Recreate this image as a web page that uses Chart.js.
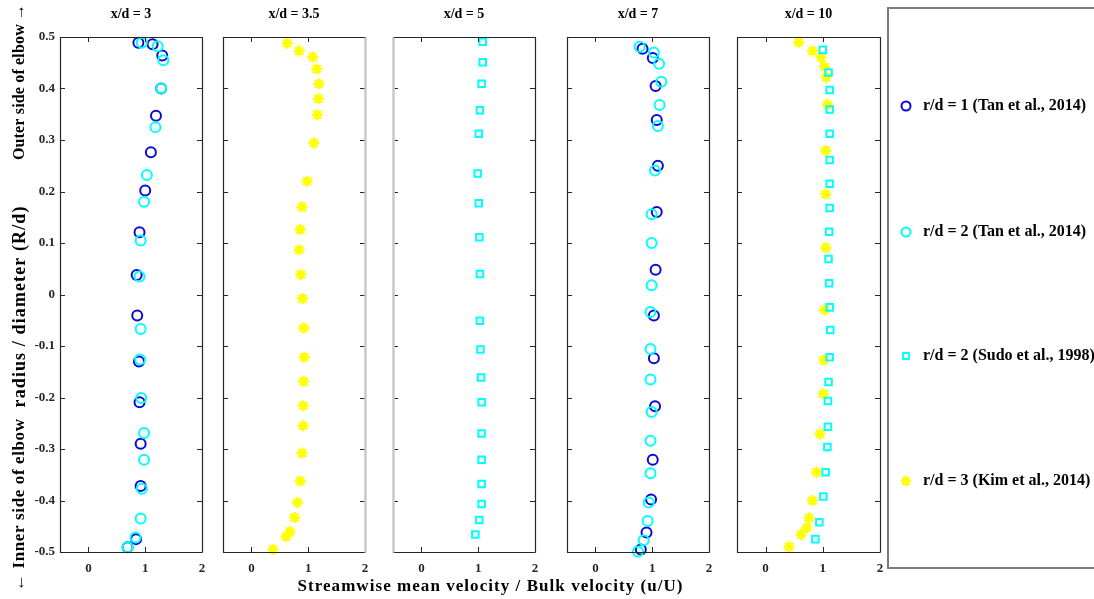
<!DOCTYPE html>
<html>
<head>
<meta charset="utf-8">
<script src="https://cdn.jsdelivr.net/npm/chart.js@4.4.0/dist/chart.umd.min.js"></script>
<style>
  html, body { margin: 0; padding: 0; background: #fff; }
  #wrap { position: relative; width: 1094px; height: 599px; overflow: hidden; }
  #wrap canvas { position: absolute; left: 0; top: 0; }
</style>
</head>
<body>
<div id="wrap">
  <canvas id="p0" width="1094" height="599"></canvas>
  <canvas id="p1" width="1094" height="599"></canvas>
  <canvas id="p2" width="1094" height="599"></canvas>
  <canvas id="p3" width="1094" height="599"></canvas>
  <canvas id="p4" width="1094" height="599"></canvas>
</div>
<script>
/* Velocity profiles downstream of an elbow — five small panels + legend */

const panelTitles = ["x/d = 3", "x/d = 3.5", "x/d = 5", "x/d = 7", "x/d = 10"];
const xTicks = [0, 1, 2];
const yTicks = [-0.5, -0.4, -0.3, -0.2, -0.1, 0, 0.1, 0.2, 0.3, 0.4, 0.5];
const yTickLabels = ["-0.5", "-0.4", "-0.3", "-0.2", "-0.1", "0", "0.1", "0.2", "0.3", "0.4", "0.5"];
const seriesLabels = ["r/d = 1 (Tan et al., 2014)", "r/d = 2 (Tan et al., 2014)",
                      "r/d = 2 (Sudo et al., 1998)", "r/d = 3 (Kim et al., 2014)"];
const xTitle = "Streamwise mean velocity / Bulk velocity (u/U)";
const yTitle = "radius / diameter (R/d)";
const yTop = "Outer side of elbow \u2192";
const yBottom = "\u2190 Inner side of elbow";

/* x/d = 3 */
const tan1_x3_u = [0.88, 1.13, 1.30, 1.28, 1.19, 1.10, 1.00, 0.90, 0.85, 0.86, 0.89, 0.90, 0.92, 0.92, 0.84, 0.69];
const tan1_x3_r = [0.489, 0.486, 0.464, 0.400, 0.347, 0.276, 0.202, 0.121, 0.038, -0.041, -0.130, -0.209, -0.290, -0.372, -0.475, -0.491];
const tan2_x3_u = [0.94, 1.22, 1.32, 1.28, 1.18, 1.03, 0.98, 0.92, 0.90, 0.92, 0.91, 0.93, 0.98, 0.98, 0.94, 0.92, 0.83, 0.69];
const tan2_x3_r = [0.489, 0.482, 0.455, 0.400, 0.325, 0.232, 0.180, 0.105, 0.035, -0.067, -0.126, -0.201, -0.269, -0.321, -0.377, -0.435, -0.472, -0.491];
/* x/d = 3.5 */
const kim_x35_u = [0.63, 0.84, 1.08, 1.15, 1.19, 1.18, 1.16, 1.10, 0.98, 0.89, 0.86, 0.84, 0.87, 0.90, 0.92, 0.93, 0.92, 0.91, 0.91, 0.89, 0.86, 0.81, 0.76, 0.68, 0.61, 0.38];
const kim_x35_r = [0.488, 0.473, 0.461, 0.438, 0.409, 0.380, 0.349, 0.294, 0.220, 0.170, 0.126, 0.087, 0.039, -0.008, -0.065, -0.122, -0.169, -0.216, -0.255, -0.308, -0.362, -0.404, -0.433, -0.460, -0.470, -0.495];
/* x/d = 5 */
const sudo_x5_u = [1.08, 1.08, 1.06, 1.03, 1.01, 0.99, 1.01, 1.02, 1.03, 1.03, 1.04, 1.05, 1.06, 1.06, 1.06, 1.06, 1.06, 1.02, 0.95];
const sudo_x5_r = [0.491, 0.451, 0.409, 0.358, 0.312, 0.235, 0.177, 0.111, 0.040, -0.051, -0.107, -0.161, -0.209, -0.270, -0.321, -0.368, -0.407, -0.438, -0.466];
/* x/d = 7 */
const tan1_x7_u = [0.83, 1.01, 1.06, 1.08, 1.10, 1.08, 1.06, 1.03, 1.03, 1.05, 1.01, 0.98, 0.90, 0.80];
const tan1_x7_r = [0.477, 0.459, 0.405, 0.339, 0.250, 0.160, 0.048, -0.041, -0.124, -0.217, -0.321, -0.398, -0.462, -0.495];
const tan2_x7_u = [0.78, 1.03, 1.12, 1.16, 1.13, 1.10, 1.05, 0.99, 0.99, 0.99, 0.97, 0.97, 0.97, 0.99, 0.97, 0.97, 0.94, 0.92, 0.85, 0.75];
const tan2_x7_r = [0.481, 0.470, 0.448, 0.413, 0.368, 0.327, 0.241, 0.156, 0.100, 0.018, -0.034, -0.106, -0.165, -0.228, -0.284, -0.347, -0.404, -0.440, -0.477, -0.499];
/* x/d = 10 */
const sudo_x10_u = [1.00, 1.10, 1.12, 1.12, 1.12, 1.12, 1.12, 1.12, 1.11, 1.10, 1.11, 1.12, 1.13, 1.12, 1.10, 1.09, 1.09, 1.08, 1.05, 1.01, 0.94, 0.87];
const sudo_x10_r = [0.475, 0.431, 0.397, 0.359, 0.312, 0.261, 0.215, 0.168, 0.122, 0.069, 0.022, -0.025, -0.069, -0.122, -0.170, -0.207, -0.257, -0.296, -0.345, -0.392, -0.442, -0.475];
const kim_x10_u = [0.58, 0.82, 0.97, 1.03, 1.06, 1.08, 1.05, 1.05, 1.05, 1.03, 1.02, 1.01, 0.95, 0.89, 0.82, 0.76, 0.72, 0.62, 0.41];
const kim_x10_r = [0.490, 0.473, 0.460, 0.442, 0.422, 0.369, 0.279, 0.195, 0.091, -0.030, -0.127, -0.193, -0.271, -0.345, -0.400, -0.434, -0.453, -0.466, -0.490];

const SERIF = '"Liberation Serif", "Times New Roman", serif';
const DARK = "#262626";
const styles = [
  { pointStyle: "circle", color: "#0a0ad8", radius: 5 },
  { pointStyle: "circle", color: "#00ffff", radius: 5 },
  { pointStyle: "rect", color: "#00ffff", radius: 4.6 },
  { pointStyle: "star", color: "#ffff00", radius: 5.5 },
];

const pts = (u, r) => u.map((v, i) => ({ x: v, y: r[i] }));
const ds = (k, u, r) => ({
  label: seriesLabels[k], data: pts(u, r), showLine: false, clip: false,
  pointStyle: styles[k].pointStyle, pointRadius: styles[k].radius,
  pointBorderColor: styles[k].color, pointBackgroundColor: "rgba(0,0,0,0)",
  pointBorderWidth: k === 3 ? 2.5 : 2,
});

// first dataset is drawn on top
const panels = [
  { L: 60,  R: 202, sets: [ds(1, tan2_x3_u, tan2_x3_r), ds(0, tan1_x3_u, tan1_x3_r)], border: { yLabels: true } },
  { L: 223, R: 365, sets: [ds(3, kim_x35_u, kim_x35_r)], border: { right: "#c8c8c8" } },
  { L: 393, R: 535, sets: [ds(2, sudo_x5_u, sudo_x5_r)], border: { left: "#c8c8c8" } },
  { L: 567, R: 709, sets: [ds(1, tan2_x7_u, tan2_x7_r), ds(0, tan1_x7_u, tan1_x7_r)], border: {} },
  { L: 737, R: 880, sets: [ds(2, sudo_x10_u, sudo_x10_r), ds(3, kim_x10_u, kim_x10_r)], border: {} },
];
const TOP = 37, BOTTOM = 552;

/* box + inward ticks on all four sides, MATLAB style; y labels on the first panel */
const boxTicks = {
  id: "boxTicks",
  afterDraw(chart, args, o) {
    const { ctx, chartArea: a, scales: { x, y } } = chart;
    ctx.save();
    ctx.strokeStyle = DARK; ctx.lineWidth = 1;
    ctx.beginPath();
    xTicks.forEach((v) => {
      const px = Math.round(x.getPixelForValue(v)) + 0.5;
      ctx.moveTo(px, a.bottom); ctx.lineTo(px, a.bottom - 5);
      ctx.moveTo(px, a.top); ctx.lineTo(px, a.top + 5);
    });
    yTicks.forEach((v) => {
      const py = Math.round(y.getPixelForValue(v)) + 0.5;
      ctx.moveTo(a.left, py); ctx.lineTo(a.left + 5, py);
      ctx.moveTo(a.right, py); ctx.lineTo(a.right - 5, py);
    });
    ctx.stroke();
    const side = (c, x1, y1, x2, y2) => {
      ctx.beginPath();
      ctx.strokeStyle = c || DARK; ctx.lineWidth = c ? 2.5 : 1.2;
      ctx.moveTo(x1, y1); ctx.lineTo(x2, y2); ctx.stroke();
    };
    const l = Math.round(a.left) + 0.5, r = Math.round(a.right) + 0.5;
    const t = Math.round(a.top) + 0.5, b = Math.round(a.bottom) + 0.5;
    side(o.top, l, t, r, t);
    side(o.bottom, l, b, r, b);
    side(o.left, l, t, l, b);
    side(o.right, r, t, r, b);
    if (o.yLabels) {
      ctx.fillStyle = DARK;
      ctx.font = `bold 13px ${SERIF}`;
      ctx.textAlign = "right"; ctx.textBaseline = "middle";
      yTicks.forEach((v, i) => ctx.fillText(yTickLabels[i], a.left - 5, y.getPixelForValue(v)));
    }
    ctx.restore();
  },
};

// draw centred text spread out to a given length
function spreadText(ctx, text, cx, cy, len) {
  ctx.letterSpacing = "0px";
  const w = ctx.measureText(text).width;
  const sp = Math.max(0, (len - w) / (text.length - 1));
  ctx.letterSpacing = sp.toFixed(2) + "px";
  ctx.fillText(text, cx + sp / 2, cy);
  ctx.letterSpacing = "0px";
}

/* shared texts: axis titles and legend box (drawn once, on the first chart) */
const figureText = {
  id: "figureText",
  afterDraw(chart) {
    const ctx = chart.ctx;
    ctx.save();
    ctx.fillStyle = "#000";
    ctx.textAlign = "center"; ctx.textBaseline = "middle";
    ctx.font = `bold 17px ${SERIF}`;
    spreadText(ctx, xTitle, 490, 587, 385);
    ctx.translate(20, 0);
    ctx.rotate(-Math.PI / 2);
    ctx.font = `bold 16px ${SERIF}`;
    spreadText(ctx, yTop, -82, 0, 156);
    ctx.font = `bold 18px ${SERIF}`;
    spreadText(ctx, yTitle, -307, 0, 201);
    ctx.font = `bold 17px ${SERIF}`;
    spreadText(ctx, yBottom, -505, 0, 172);
    ctx.restore();

    // legend box
    ctx.save();
    ctx.strokeStyle = "#7a7a7a"; ctx.lineWidth = 2;
    ctx.strokeRect(888, 8, 220, 560);
    const ys = [106, 232, 356, 481];
    seriesLabels.forEach((lab, k) => {
      const s = styles[k];
      ctx.strokeStyle = s.color; ctx.fillStyle = "rgba(0,0,0,0)";
      ctx.lineWidth = k === 3 ? 2.5 : 2;
      Chart.helpers.drawPoint(ctx, { pointStyle: s.pointStyle, radius: s.radius - 0.5, rotation: 0, borderWidth: ctx.lineWidth }, 906, ys[k]);
      ctx.fillStyle = "#000";
      ctx.font = `bold 16px ${SERIF}`;
      ctx.textAlign = "left"; ctx.textBaseline = "middle";
      ctx.fillText(lab, 923, ys[k]);
    });
    ctx.restore();
  },
};

panels.forEach((p, i) => {
  const first = i === 0;
  new Chart(document.getElementById("p" + i), {
    type: "scatter",
    data: { datasets: p.sets },
    options: {
      responsive: false, animation: false, events: [],
      layout: { padding: { left: p.L, right: 1094 - p.R, top: 0, bottom: 0 } },
      plugins: {
        legend: { display: false }, tooltip: { enabled: false },
        title: {
          display: true, text: panelTitles[i], fullSize: false, color: "#000",
          font: { family: SERIF, size: 14, weight: "bold", lineHeight: 1.2 },
          padding: { top: 6, bottom: TOP - 6 - 16.8 },
        },
        boxTicks: p.border,
      },
      scales: {
        x: {
          type: "linear", min: -0.5, max: 2,
          afterBuildTicks: (s) => { s.ticks = xTicks.map((v) => ({ value: v })); },
          afterFit: (s) => { s.height = 599 - BOTTOM; },
          grid: { display: false }, border: { display: false },
          ticks: { padding: 1, color: DARK, font: { family: SERIF, size: 13, weight: "bold" }, maxRotation: 0 },
        },
        y: {
          type: "linear", min: -0.5, max: 0.5, display: false,
          afterBuildTicks: (s) => { s.ticks = yTicks.map((v) => ({ value: v })); },
        },
      },
    },
    plugins: first ? [boxTicks, figureText] : [boxTicks],
  });
});
</script>
</body>
</html>
